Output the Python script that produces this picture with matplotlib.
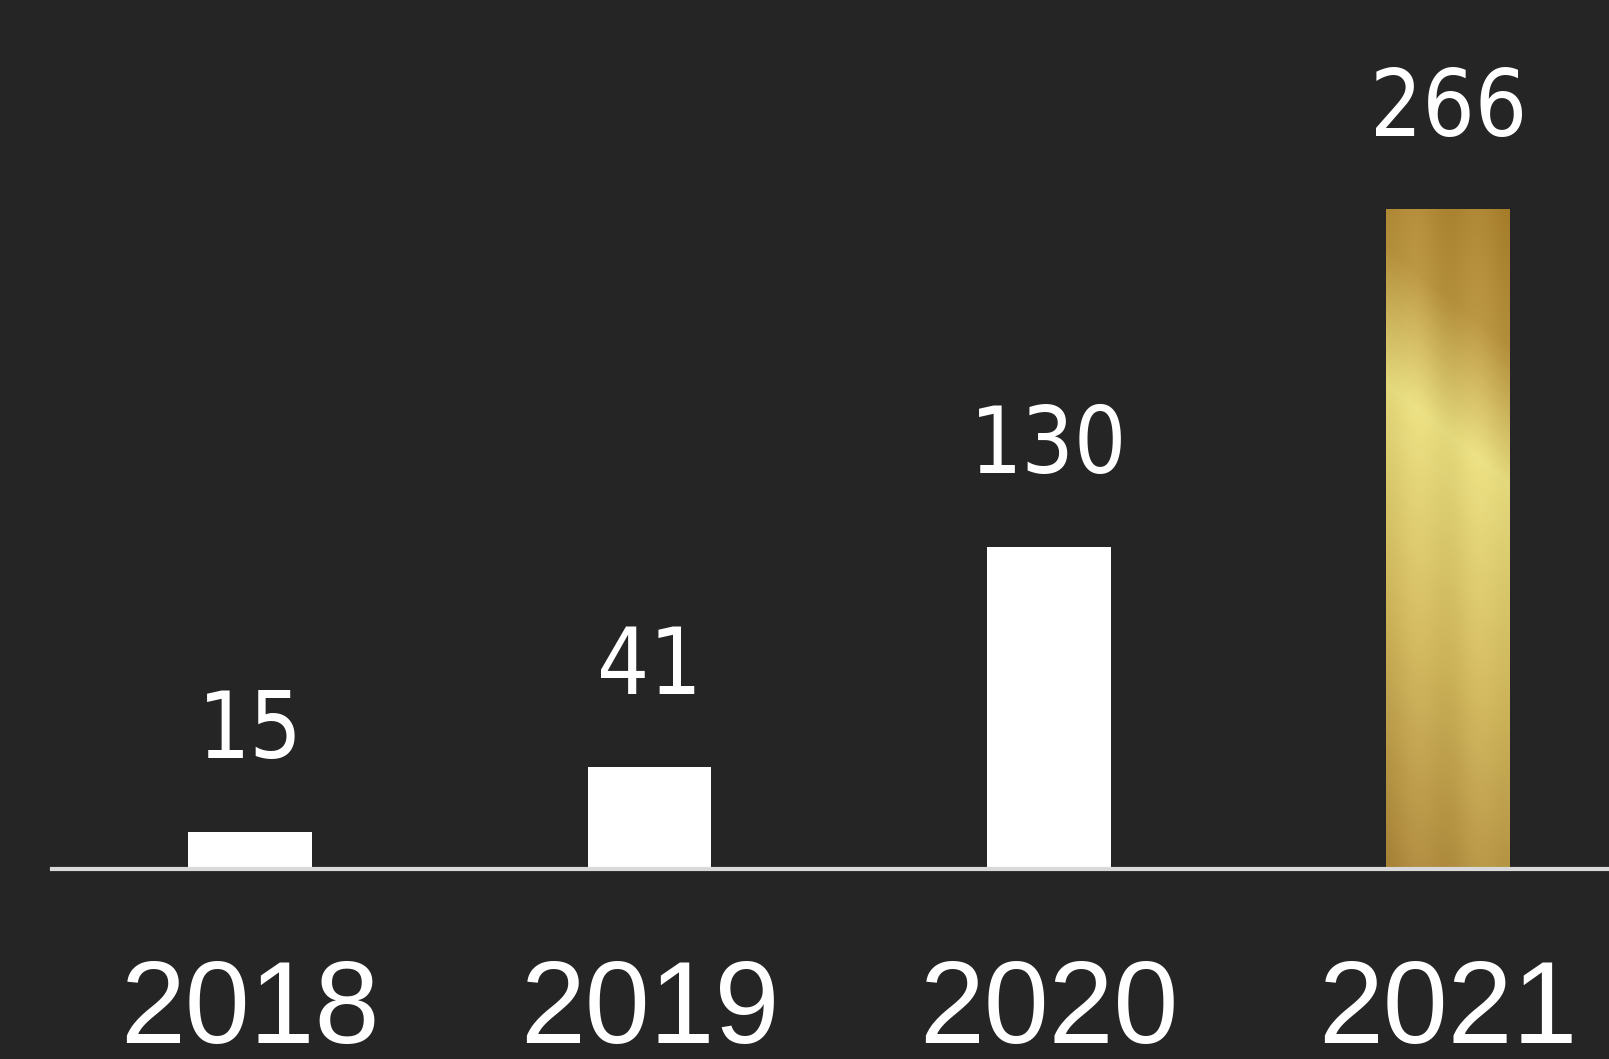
#!/usr/bin/env python3
"""Yearly bar chart on dark background, last bar in a gold gradient."""
import numpy as np
import matplotlib
matplotlib.use("Agg")
import matplotlib.pyplot as plt
from matplotlib import font_manager
from matplotlib.colors import LinearSegmentedColormap

YEARS = ["2018", "2019", "2020", "2021"]
VALUES = [15, 41, 130, 266]

BG = "#252525"
AXIS = "#d9d9d9"
GOLD = LinearSegmentedColormap.from_list(
    "gold", [(0.0, "#a9812f"), (0.18, "#b8933f"), (0.36, "#e8dd80"),
             (0.65, "#d2b95f"), (1.0, "#ab863b")])


def narrow_font():
    """pick a condensed/narrow face if the system has one."""
    cands = []
    for f in font_manager.fontManager.ttflist:
        n = f.name.lower()
        st = str(f.stretch).lower()
        if "narrow" in n or "condensed" in n or "condensed" in st:
            if "italic" in f.style or "oblique" in f.style:
                continue
            w = f.weight if isinstance(f.weight, int) else 400
            cands.append((abs(w - 350), f.fname))
    if cands:
        return font_manager.FontProperties(fname=sorted(cands)[0][1])
    return font_manager.FontProperties(family="DejaVu Sans")


def have(name):
    try:
        font_manager.findfont(name, fallback_to_default=False)
        return True
    except Exception:
        return False


NARROW = narrow_font()
WIDE = "Liberation Sans" if have("Liberation Sans") else "DejaVu Sans"

W, H = 1609, 1059
fig = plt.figure(figsize=(W / 100, H / 100), dpi=100, facecolor=BG)
ax = fig.add_axes([52 / W, 190 / H, 1 - 52 / W, 1 - 190 / H])
ax.set_facecolor(BG)

x = np.arange(len(YEARS))
bars = ax.bar(x, VALUES, width=0.31, color="white", zorder=2)

# gold gradient for the last bar, clipped to the bar patch
gb = bars[-1]
gb.set_facecolor("none")
ny, nx = 400, 80
yy, xx = np.mgrid[0:1:ny * 1j, 0:1:nx * 1j]
t = (yy * 660 - 0.81 * xx * 123 + 100) / 760
img = GOLD(np.clip(t, 0, 1))
stripe = 0.018 * np.cos(xx * np.pi * 4)[..., None]
img[..., :3] = np.clip(img[..., :3] - stripe, 0, 1)
im = ax.imshow(img, extent=(gb.get_x(), gb.get_x() + gb.get_width(), 0, gb.get_height()),
               origin="upper", aspect="auto", zorder=2, interpolation="bilinear")
im.set_clip_path(gb)

for xi, v in zip(x, VALUES):
    fp = NARROW.copy()
    fp.set_size(66)
    ax.annotate(str(v), (xi, v), xytext=(0, 53), textcoords="offset points",
                ha="center", va="baseline", color="white", fontproperties=fp)

ax.set_xlim(-0.496, 3.403)
ax.set_ylim(0, 350.4)
ax.set_xticks(x)
ax.set_xticklabels(YEARS, fontsize=84, color="white", family=WIDE)
ax.tick_params(axis="x", length=0, pad=64)
ax.set_yticks([])
for s in ("top", "right", "left"):
    ax.spines[s].set_visible(False)
ax.spines["bottom"].set_color(AXIS)
ax.spines["bottom"].set_linewidth(3)
ax.spines["bottom"].set_zorder(3)

fig.savefig("out.png", dpi=100, facecolor=BG)
